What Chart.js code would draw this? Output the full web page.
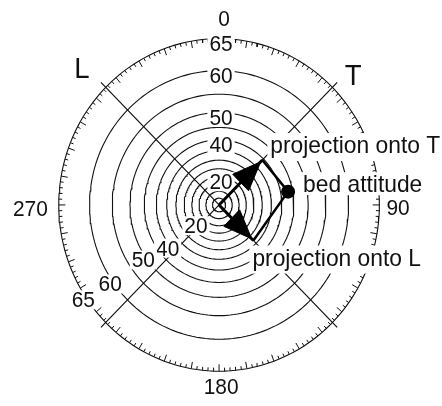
<!DOCTYPE html>
<html>
<head>
<meta charset="utf-8">
<script src="https://cdn.jsdelivr.net/npm/chart.js@4.4.1/dist/chart.umd.min.js"></script>
<style>
  html, body { margin: 0; padding: 0; background: #fff; }
  canvas { display: block; }
</style>
</head>
<body>
<canvas id="stereo" width="442" height="406"></canvas>
<script>
// ─── DATA ────────────────────────────────────────────────────────
const ringDips      = [5, 10, 15, 20, 25, 30, 35, 40, 45, 50, 55, 60];
const outerDip      = 65;
const ringLabels    = [20, 40, 50, 60, 65];
const compassLabels = ['0', '90', '180', '270'];
const axisLabels    = ['T', 'L'];
const axisAz        = [45, 315];
const projLabels    = ['projection onto T', 'projection onto L'];
const projAz        = [45, 135];
const projDip       = [39.3, 33];
const bedLabel      = 'bed attitude';
const bedAz         = 79.5;
const bedDip        = 43.2;

// ─── LAYOUT ──────────────────────────────────────────────────────
const W = 442, H = 406;
const CX = 219, CY = 205;       // pole position in pixels
const KX = 77.2, KY = 80.3;     // pixels per unit of tan(dip)
const FONT = "'Liberation Sans', Arial, sans-serif";
const SQUASH = 0.95;            // text is a bit narrow in the original
const INK = '#111';
const lowerLabelAz = [229, 231, 235, 235, 236];

const rad   = d => d * Math.PI / 180;
const tanD  = d => Math.tan(rad(d));
const polar = (az, r) => ({ x: r * Math.sin(rad(az)), y: r * Math.cos(rad(az)) });
const GAP   = { x: null, y: null };

const R = tanD(outerDip);

function circle(r) {
  const pts = [];
  for (let a = 0; a <= 360; a += 2) pts.push(polar(a, r));
  return pts;
}

// tick marks on the outer ring, pointing inward
const tickPts = [];
for (let a = 0; a < 360; a += 2) {
  const len = a % 10 === 0 ? 7 : 3.5;
  tickPts.push(polar(a, R), polar(a, R - len / 79), GAP);
}

// L and T lines through the pole
const axisExt = R + 0.09;
const axisPts = [];
axisAz.forEach(az => axisPts.push(polar(az, axisExt), polar(az + 180, axisExt), GAP));

const tips = projAz.map((az, i) => polar(az, tanD(projDip[i])));
const bed  = polar(bedAz, tanD(bedDip));

function arrowHead(az, r) {
  const tip  = polar(az, r - 0.03);
  const base = polar(az, r - 0.03 - 0.38);
  const side = polar(az + 90, 0.15);
  return [tip,
          { x: base.x + side.x, y: base.y + side.y },
          { x: base.x - side.x, y: base.y - side.y },
          tip];
}

const lineDs = (data, width, extra) => Object.assign({
  data, showLine: true, fill: false, tension: 0, spanGaps: false,
  pointRadius: 0, borderColor: INK, borderWidth: width
}, extra || {});

const datasets = [];

// bed attitude dot (drawn last = on top)
datasets.push({ data: [bed], showLine: false, pointRadius: 7,
  pointBackgroundColor: '#000', pointBorderWidth: 0, order: 0 });

// arrow heads
projAz.forEach((az, i) => {
  datasets.push(lineDs(arrowHead(az, tanD(projDip[i])), 1,
    { fill: 'shape', backgroundColor: '#000', borderColor: '#000', order: 1 }));
});

// arrow shafts
const shaftPts = [];
tips.forEach(t => shaftPts.push({ x: 0, y: 0 }, t, GAP));
datasets.push(lineDs(shaftPts, 3, { borderColor: '#000', order: 2 }));

// lines from the bed attitude to each projection
datasets.push(lineDs([tips[0], bed, tips[1]], 2.5, { borderColor: '#000', order: 3 }));

// axes
datasets.push(lineDs(axisPts, 1.2, { order: 8, role: 'axes' }));

// outer ring with ticks
datasets.push(lineDs(circle(R), 1.1, { order: 9 }));
datasets.push(lineDs(tickPts, 1, { order: 9 }));

// dip rings
ringDips.forEach(d => datasets.push(lineDs(circle(tanD(d)), 1.1, { order: 10 })));

// ─── LABELS (drawn over rings and axes, under the arrows) ────────
function drawText(ctx, text, x, y, o) {
  ctx.font = `${o.size}px ${FONT}`;
  const m    = ctx.measureText(text);
  const w    = m.width * SQUASH;
  const asc  = m.actualBoundingBoxAscent;
  const desc = m.actualBoundingBoxDescent;
  const left = o.align === 'center' ? x - w / 2 : o.align === 'right' ? x - w : x;
  const base = o.middle ? y + (asc - desc) / 2 : y;
  if (o.pad !== undefined) {
    ctx.fillStyle = '#fff';
    ctx.fillRect(left - o.pad, base - asc - o.pad, w + 2 * o.pad, asc + desc + 2 * o.pad);
  }
  ctx.save();
  ctx.translate(left, base);
  ctx.scale(SQUASH, 1);
  ctx.fillStyle = INK;
  ctx.textAlign = 'left';
  ctx.textBaseline = 'alphabetic';
  ctx.fillText(text, 0, 0);
  ctx.restore();
}

const labelPlugin = {
  id: 'stereoLabels',
  afterDatasetDraw(chart, args) {
    if (chart.data.datasets[args.index].role !== 'axes') return;
    const ctx = chart.ctx;
    const px = p => ({ x: chart.scales.x.getPixelForValue(p.x),
                       y: chart.scales.y.getPixelForValue(p.y) });

    // dip labels up the north line and down the south-west side
    ringLabels.forEach((d, i) => {
      const top = px(polar(0, tanD(d)));
      drawText(ctx, String(d), top.x + 2, top.y + 5, { size: 22, align: 'center', middle: true, pad: 2 });
      const low = px(polar(lowerLabelAz[i], tanD(d) + 0.045));
      drawText(ctx, String(d), low.x, low.y, { size: 22, align: 'center', middle: true, pad: 2 });
    });

    // azimuth labels round the rim
    const n = px(polar(0, R)), e = px(polar(90, R)), s = px(polar(180, R)), w = px(polar(270, R));
    drawText(ctx, compassLabels[0], n.x + 5, n.y - 20, { size: 22, align: 'center', middle: true });
    drawText(ctx, compassLabels[1], e.x + 7, e.y + 2.5, { size: 22, align: 'left', middle: true });
    drawText(ctx, compassLabels[2], s.x + 2, s.y + 15, { size: 22, align: 'center', middle: true });
    drawText(ctx, compassLabels[3], w.x - 11, w.y + 4, { size: 22, align: 'right', middle: true });

    // T and L names beyond the line ends
    const tEnd = px(polar(axisAz[0], axisExt)), lEnd = px(polar(axisAz[1], axisExt));
    drawText(ctx, axisLabels[0], tEnd.x + 16, tEnd.y - 7, { size: 29, align: 'center', middle: true });
    drawText(ctx, axisLabels[1], lEnd.x - 19, lEnd.y - 14, { size: 29, align: 'center', middle: true });

    // projection and bed labels with white backing
    const tT = px(tips[0]), tL = px(tips[1]), b = px(bed);
    drawText(ctx, projLabels[0], tT.x + 8, tT.y - 7, { size: 24, align: 'left', pad: 3 });
    drawText(ctx, projLabels[1], tL.x - 1, tL.y + 25, { size: 24, align: 'left', pad: 3 });
    drawText(ctx, bedLabel, b.x + 15, b.y + 0.5, { size: 24, align: 'left', pad: 3 });
  }
};

new Chart(document.getElementById('stereo'), {
  type: 'scatter',
  data: { datasets },
  options: {
    responsive: false,
    animation: false,
    devicePixelRatio: 1,
    events: [],
    layout: { padding: 0 },
    plugins: { legend: { display: false }, tooltip: { enabled: false } },
    scales: {
      x: { type: 'linear', min: -CX / KX, max: (W - CX) / KX, display: false },
      y: { type: 'linear', min: -(H - CY) / KY, max: CY / KY, display: false }
    }
  },
  plugins: [labelPlugin]
});
</script>
</body>
</html>
